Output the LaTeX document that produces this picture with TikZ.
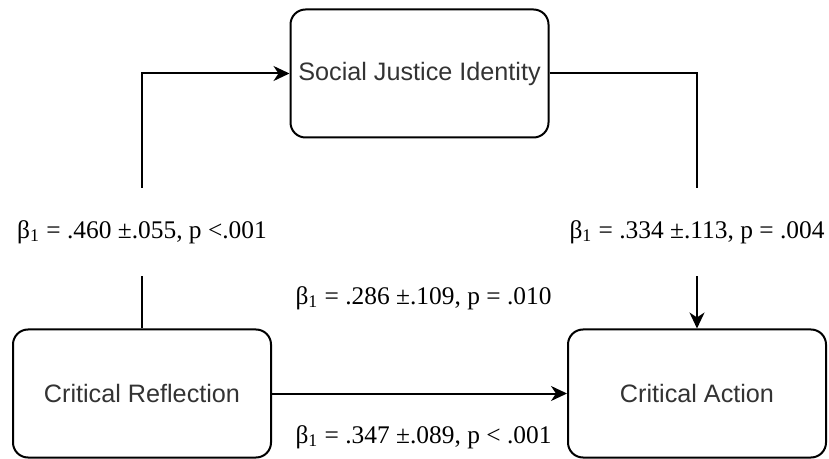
\documentclass[tikz,border=0pt]{standalone}
\usepackage{fontspec}
\setmainfont{Liberation Serif}
\setsansfont{Liberation Sans}
\usepackage{tikz}
\usetikzlibrary{arrows.meta,positioning,calc}

\begin{document}
\begin{tikzpicture}[
    x=0.5pt, y=-0.5pt,
    box/.style={rectangle, rounded corners=7.5pt, draw, line width=1pt, minimum width=129pt, minimum height=64pt, align=center, font=\sffamily\fontsize{12.6}{15}\selectfont, text=black!80},
    coef/.style={inner sep=0pt, font=\fontsize{12.7}{15}\selectfont},
    gap/.style={coef, fill=white, minimum height=44pt},
    plain/.style={line width=1pt},
    arrow/.style={-{Stealth[length=8pt,width=7.5pt,inset=2.5pt]}, line width=1pt}
]
    \useasboundingbox (0,0) rectangle (829,459);
    \node[box] (social) at (419.5,73.5) {Social Justice Identity};
    \node[box] (reflection) at (142,393.5) {Critical Reflection};
    \node[box] (action) at (697,393.5) {Critical Action};

    \node[gap] (ra) at (reflection |- 0,232) {β\textsubscript{1} = .460 ±.055, p <.001};
    \node[gap] (sa) at (action |- 0,232) {β\textsubscript{1} = .334 ±.113, p = .004};
    \node[coef] (indirect) at (423.5,298) {β\textsubscript{1} = .286 ±.109, p = .010};
    \node[coef] (direct) at (423.5,437) {β\textsubscript{1} = .347 ±.089, p < .001};

    \draw[plain] (reflection) -- (ra);
    \draw[arrow] (ra) |- (social);
    \draw[plain] (social) -| (sa);
    \draw[arrow] (sa) -- (action);
    \draw[arrow] (reflection) -- (action);
\end{tikzpicture}
\end{document}
